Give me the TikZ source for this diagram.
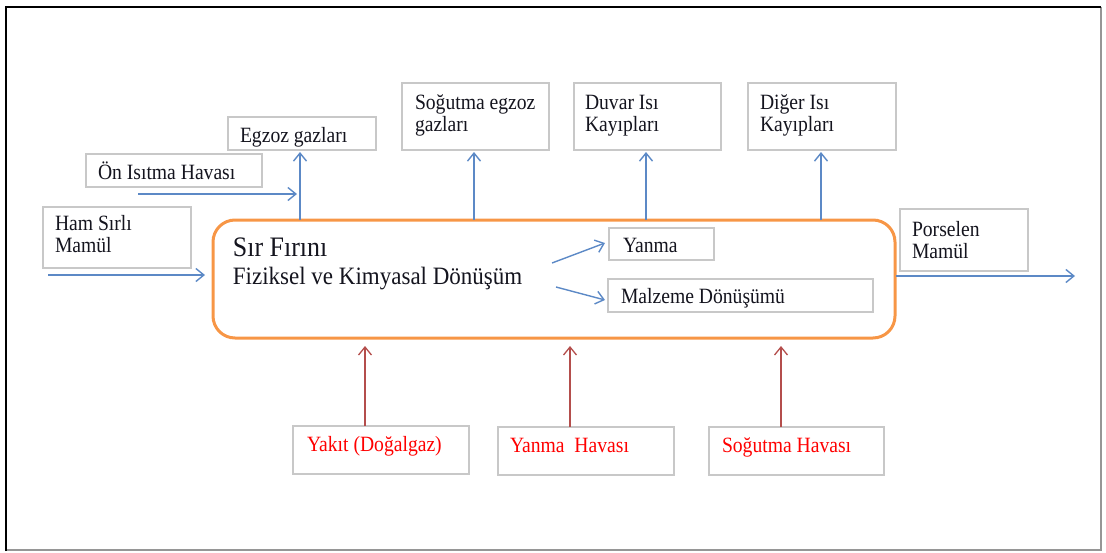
\documentclass[tikz,border=0pt]{standalone}
\usepackage{fontspec}
\setmainfont{Liberation Serif}
\newfontfamily\lblfont{Liberation Serif}[FakeStretch=0.9]
\newfontfamily\ttlfont{Liberation Serif}[FakeStretch=0.92]
\usetikzlibrary{arrows.meta}
\definecolor{arrblue}{RGB}{92,137,198}
\definecolor{arrred}{RGB}{180,78,76}
\definecolor{frorange}{RGB}{247,150,70}
\definecolor{boxgray}{RGB}{200,200,200}
\definecolor{txtred}{RGB}{255,0,0}
\definecolor{txtdark}{RGB}{20,20,30}
\definecolor{framegray}{RGB}{150,150,150}
\begin{document}
\begin{tikzpicture}[x=1pt,y=-1pt,
  box/.style={draw=boxgray, line width=1.5pt, inner sep=0pt, outer sep=0pt, fill=white},
  lbl/.style={anchor=base west, inner sep=0pt, outer sep=0pt, text=txtdark, font=\lblfont\fontsize{21.8}{24}\selectfont},
  redlbl/.style={lbl, text=txtred},
  bluearr/.style={draw=arrblue, line width=1.4pt, -{Straight Barb[length=8pt,width=13pt]}},
  redarr/.style={draw=arrred, line width=1.3pt, -{Straight Barb[length=8pt,width=13pt]}}
]
\useasboundingbox (0,0) rectangle (1106,552);
% outer frame
\draw[framegray, line width=1.5pt] (1101,7) -- (1101,550) -- (6,550);
\draw[black, line width=2.2pt] (6,551) -- (6,7) -- (1101,7);

% furnace
\node[draw=frorange, line width=3pt, rounded corners=22pt, inner sep=0pt, outer sep=0pt,
      minimum width=682pt, minimum height=118pt] (firin) at (554,279) {};
\node[anchor=base west, inner sep=0pt, text=txtdark, font=\ttlfont\fontsize{28.2}{30}\selectfont] (t1) at (232.7,256) {Sır Fırını};
\node[anchor=base west, inner sep=0pt, text=txtdark, font=\ttlfont\fontsize{25}{27}\selectfont] (t2) at (232.7,284) {Fiziksel ve Kimyasal Dönüşüm};

% boxes
\node[box, minimum width=148pt, minimum height=33pt] (egz) at (302,133.5) {};
\node[box, minimum width=176pt, minimum height=33pt] (onis) at (174,170.5) {};
\node[box, minimum width=148pt, minimum height=61pt] (ham) at (117,237.5) {};
\node[box, minimum width=147pt, minimum height=67pt] (sogeg) at (475.5,116.5) {};
\node[box, minimum width=147pt, minimum height=67pt] (duvar) at (647.5,116.5) {};
\node[box, minimum width=148pt, minimum height=67pt] (diger) at (822,116.5) {};
\node[box, minimum width=105pt, minimum height=32pt] (yanma) at (661.5,244) {};
\node[box, minimum width=265pt, minimum height=33pt] (malz) at (740.5,295.5) {};
\node[box, minimum width=128pt, minimum height=62pt] (pors) at (964,240) {};
\node[box, minimum width=176pt, minimum height=48pt] (yakit) at (381,450) {};
\node[box, minimum width=176pt, minimum height=48pt] (yhav) at (586,451) {};
\node[box, minimum width=175pt, minimum height=48pt] (shav) at (796.5,451) {};

% labels
\node[lbl] (l-egz) at (240,142) {Egzoz gazları};
\node[lbl] (l-onis) at (98,179) {Ön Isıtma Havası};
\node[lbl] (l-ham1) at (55,230) {Ham Sırlı};
\node[lbl] (l-ham2) at (55,252) {Mamül};
\node[lbl] (l-sog1) at (415,109) {Soğutma egzoz};
\node[lbl] (l-sog2) at (415,131) {gazları};
\node[lbl] (l-duv1) at (585,109) {Duvar Isı};
\node[lbl] (l-duv2) at (585,131) {Kayıpları};
\node[lbl] (l-dig1) at (760,109) {Diğer Isı};
\node[lbl] (l-dig2) at (760,131) {Kayıpları};
\node[lbl] (l-yan) at (623,252) {Yanma};
\node[lbl] (l-malz) at (621,303) {Malzeme Dönüşümü};
\node[lbl] (l-por1) at (912,236) {Porselen};
\node[lbl] (l-por2) at (912,258) {Mamül};
\node[redlbl] (l-yak) at (307,451) {Yakıt (Doğalgaz)};
\node[redlbl] (l-yhav) at (510,452) {Yanma~~Havası};
\node[redlbl] (l-shav) at (722,452) {Soğutma Havası};

% connector end points
\coordinate (hamS) at (48,275);
\coordinate (onisS) at (138,194);
\coordinate (egzX) at (300,220);
\coordinate (sogX) at (474,220);
\coordinate (duvX) at (646,220);
\coordinate (digX) at (821,220);
\coordinate (yanS) at (552,263);
\coordinate (yanE) at (605,243);
\coordinate (malS) at (556,287);
\coordinate (malE) at (605,300);
\coordinate (porS) at (896,276);
\coordinate (porE) at (1075,276);
\coordinate (jn) at (300,194);

% blue connectors
\draw[bluearr, shorten >=8pt] (hamS) -- (hamS -| firin.west);
\draw[bluearr, shorten >=3pt] (onisS) -- (jn);
\draw[bluearr, shorten >=2pt] (egzX) -- (egzX |- egz.south);
\draw[bluearr, shorten >=2pt] (sogX) -- (sogX |- sogeg.south);
\draw[bluearr, shorten >=2pt] (duvX) -- (duvX |- duvar.south);
\draw[bluearr, shorten >=2pt] (digX) -- (digX |- diger.south);
\draw[bluearr] (yanS) -- (yanE);
\draw[bluearr] (malS) -- (malE);
\draw[bluearr] (porS) -- (porE);

% red connectors
\draw[redarr, shorten >=8pt] (yakit.north -| 365,0) -- (firin.south -| 365,0);
\draw[redarr, shorten >=8pt] (yhav.north -| 570,0) -- (firin.south -| 570,0);
\draw[redarr, shorten >=8pt] (shav.north -| 781,0) -- (firin.south -| 781,0);
\end{tikzpicture}
\end{document}
